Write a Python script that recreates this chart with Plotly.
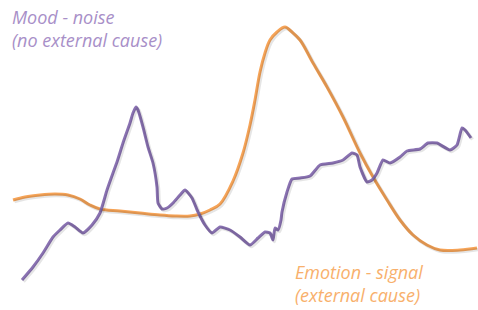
import plotly.graph_objects as go

# Emotion (signal) curve
emo_x = [13, 25, 40, 55, 68, 80, 90, 100, 120, 140, 160, 175, 190, 200, 210, 220, 233, 243, 250,
         255, 260, 265, 270, 277, 285, 292, 300, 313, 327, 343, 360, 373, 387, 400, 413, 427, 440, 460, 477]
emo_y = [200, 197, 195, 194, 195, 199, 205, 209, 211, 213, 215, 216, 216, 214, 210, 204, 181, 153, 125,
         100, 72, 53, 40, 32, 27, 32, 40, 63, 87, 117, 153, 177, 200, 220, 235, 245, 250, 250, 248]

# Mood (noise) curve
mood_x = [22, 33, 43, 53, 60, 68, 75, 83, 92, 100, 107, 113, 117, 123, 130, 133, 136, 138, 143, 148,
          153, 157, 158, 162, 167, 173, 180, 185, 192, 198, 205, 212, 220, 230, 240, 250, 258, 265,
          270, 273, 275, 278, 281, 282, 287, 292, 300, 310, 320, 333, 343, 352, 357, 360, 367, 372,
          377, 383, 390, 400, 407, 420, 428, 437, 450, 457, 462, 465, 471]
mood_y = [280, 267, 253, 237, 230, 223, 227, 233, 225, 213, 190, 173, 162, 143, 123, 113, 107, 110, 127, 147,
          163, 187, 203, 209, 208, 203, 195, 190, 198, 212, 225, 233, 227, 230, 237, 245, 238, 232,
          233, 240, 228, 230, 220, 212, 192, 179, 178, 176, 165, 163, 160, 153, 155, 167, 182, 180,
          173, 160, 163, 157, 151, 149, 143, 143, 150, 145, 128, 130, 138]

PURPLE = "#8a72b2"
ORANGE = "#f6a458"
SHADOW = "rgba(0,0,0,0.10)"

fig = go.Figure()
# soft drop shadows drawn on a slightly shifted copy of the axes
for xs, ys, sm in [(emo_x, emo_y, 1.0), (mood_x, mood_y, 0.5)]:
    fig.add_trace(go.Scatter(x=xs, y=ys, mode="lines", xaxis="x2", yaxis="y2",
                             line=dict(color=SHADOW, width=3.5, shape="spline", smoothing=sm),
                             hoverinfo="skip"))
fig.add_trace(go.Scatter(x=emo_x, y=emo_y, mode="lines",
                         line=dict(color=ORANGE, width=3, shape="spline", smoothing=1.0),
                         hoverinfo="skip"))
fig.add_trace(go.Scatter(x=mood_x, y=mood_y, mode="lines",
                         line=dict(color=PURPLE, width=3, shape="spline", smoothing=0.5),
                         hoverinfo="skip"))

fig.add_annotation(x=10, y=3, xref="x", yref="y", xanchor="left", yanchor="top",
                   text="<i>Mood - noise<br>(no external cause)</i>", showarrow=False, align="left",
                   font=dict(family="Open Sans", size=18, color="#a88fc8"))
fig.add_annotation(x=293, y=258, xref="x", yref="y", xanchor="left", yanchor="top",
                   text="<i>Emotion - signal<br>(external cause)</i>", showarrow=False, align="left",
                   font=dict(family="Open Sans", size=18, color="#f8b06c"))

fig.update_layout(width=478, height=310, margin=dict(l=0, r=0, t=0, b=0),
                  paper_bgcolor="white", plot_bgcolor="white", showlegend=False,
                  xaxis=dict(range=[0, 478], visible=False),
                  yaxis=dict(range=[310, 0], visible=False),
                  xaxis2=dict(range=[-1.5, 476.5], visible=False, overlaying="x"),
                  yaxis2=dict(range=[308.5, -1.5], visible=False, overlaying="y"))
fig.write_html("out.html", config={"displayModeBar": False},
               post_script="document.body.style.margin='0px';document.body.style.overflow='hidden';")
